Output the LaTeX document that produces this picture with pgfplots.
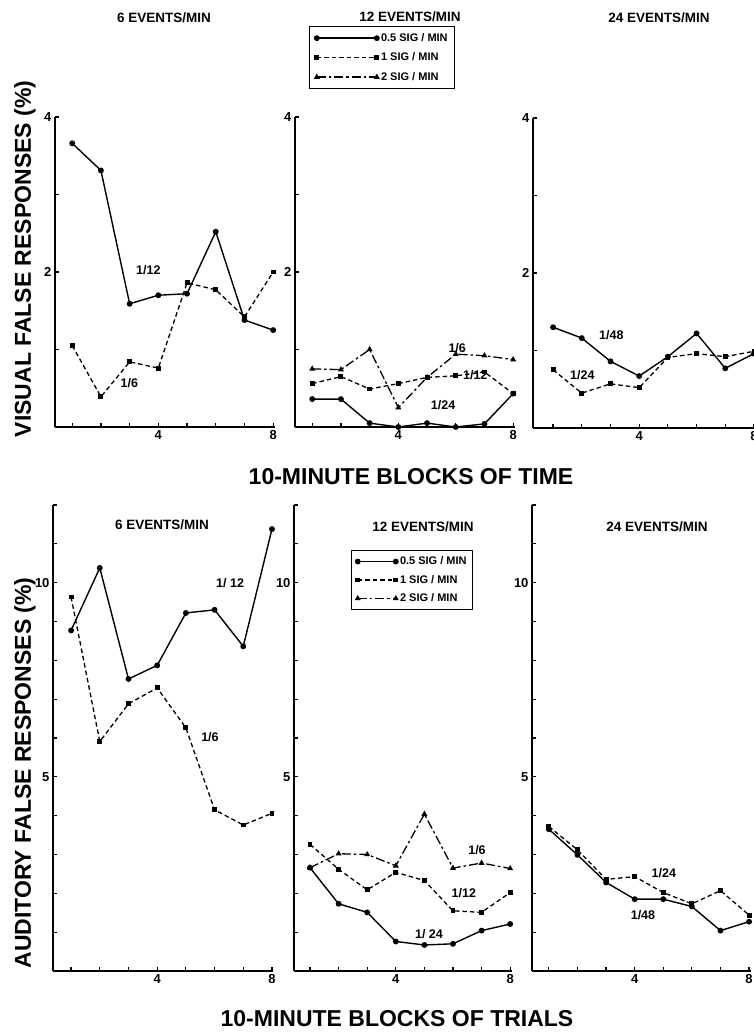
\documentclass[border=0pt]{standalone}
\usepackage{fontspec}
\setmainfont{Liberation Sans}
\usepackage{pgfplots}
\pgfplotsset{compat=1.18}

\tikzset{ann/.style={font=\bfseries\fontsize{12.5}{12.5}\selectfont}}
\pgfplotsset{
 panel/.style={
   scale only axis,
   axis lines*=left,
   axis line style={line width=1.5pt},
   tick align=inside,
   major tick length=3.5pt,
   every tick/.append style={line width=1.2pt, black},
   xtick={1,...,8},
   xticklabels={,,,4,,,,8},
   tick label style={font=\bfseries\fontsize{13}{13}\selectfont},
   xmax=8.05,
   clip=false,
 },
 top/.style={panel, ymin=0, ymax=4, height=310pt, ytick={1,2,3,4}, yticklabels={,2,,4}},
 bot/.style={panel, ymin=0, ymax=12, height=466pt, ytick={1,...,12}, yticklabels={,,,,5,,,,,10,,}},
 s05/.style={black, line width=1.4pt, mark=*, mark size=2.2pt, mark options={solid}},
 s1/.style={black, line width=1.3pt, dash pattern=on 4.5pt off 3pt, mark=square*, mark size=1.8pt, mark options={solid}},
 s2/.style={black, line width=1.3pt, dash pattern=on 9pt off 3pt on 2.5pt off 3pt, mark=triangle*, mark size=2.2pt, mark options={solid}},
}

\begin{document}
\begin{tikzpicture}
\useasboundingbox (0,0) rectangle (753pt,1035pt);

% ---------- TOP ROW: VISUAL ----------
\begin{axis}[top, at={(55pt,608pt)}, anchor=south west, xmin=0.4, width=219.6pt]
\addplot[s05] coordinates {(1,3.66) (2,3.31) (3,1.59) (4,1.70) (5,1.72) (6,2.52) (7,1.38) (8,1.25)};
\addplot[s1] coordinates {(1,1.05) (2,0.39) (3,0.84) (4,0.76) (5,1.86) (6,1.77) (7,1.42) (8,2.0)};
\node[ann] at (axis cs:3.65,2.03) {1/12};
\node[ann] at (axis cs:2.99,0.57) {1/6};
\end{axis}

\begin{axis}[top, at={(295pt,608pt)}, anchor=south west, xmin=0.4, width=219.6pt,
  legend style={at={(0.064,1.294)}, anchor=north west, draw=black, line width=1.2pt,
    font=\bfseries\fontsize{11}{11}\selectfont, row sep=6pt, inner sep=5pt,
    cells={anchor=west}},
  legend image code/.code={\draw[#1] plot coordinates {(0pt,0pt) (60pt,0pt)};}]
\addplot[s05] coordinates {(1,0.36) (2,0.36) (3,0.05) (4,0.0) (5,0.05) (6,0.0) (7,0.04) (8,0.43)};
\addplot[s1] coordinates {(1,0.56) (2,0.65) (3,0.49) (4,0.56) (5,0.64) (6,0.66) (7,0.71) (8,0.43)};
\addplot[s2] coordinates {(1,0.75) (2,0.74) (3,1.0) (4,0.25) (5,0.64) (6,0.94) (7,0.92) (8,0.87)};
\legend{0.5 SIG / MIN, 1 SIG / MIN, 2 SIG / MIN}
\node[ann] at (axis cs:6.05,1.02) {1/6};
\node[ann] at (axis cs:6.68,0.67) {1/12};
\node[ann] at (axis cs:5.56,0.28) {1/24};
\end{axis}

\begin{axis}[top, at={(533pt,607pt)}, anchor=south west, xmin=0.3, width=222.4pt]
\addplot[s05] coordinates {(1,1.30) (2,1.16) (3,0.86) (4,0.67) (5,0.92) (6,1.22) (7,0.77) (8,0.96)};
\addplot[s1] coordinates {(1,0.75) (2,0.45) (3,0.57) (4,0.52) (5,0.91) (6,0.96) (7,0.92) (8,0.99)};
\node[ann] at (axis cs:3.03,1.2) {1/48};
\node[ann] at (axis cs:2.02,0.68) {1/24};
\end{axis}

% ---------- BOTTOM ROW: AUDITORY ----------
\begin{axis}[bot, at={(53pt,64pt)}, anchor=south west, xmin=0.37, width=220.4pt]
\addplot[s05] coordinates {(1,8.77) (2,10.38) (3,7.52) (4,7.87) (5,9.22) (6,9.30) (7,8.36) (8,11.38)};
\addplot[s1] coordinates {(1,9.63) (2,5.91) (3,6.88) (4,7.29) (5,6.26) (6,4.15) (7,3.76) (8,4.06)};
\node[ann] at (axis cs:6.54,10.0) {1/ 12};
\node[ann] at (axis cs:5.84,6.03) {1/6};
\end{axis}

\begin{axis}[bot, at={(294pt,64pt)}, anchor=south west, xmin=0.44, width=217.6pt,
  legend style={at={(0.262,0.903)}, anchor=north west, draw=black, line width=1.2pt,
    font=\bfseries\fontsize{11}{11}\selectfont, row sep=5pt, inner sep=4pt,
    cells={anchor=west}},
  legend image code/.code={\draw[#1] plot coordinates {(0pt,0pt) (38pt,0pt)};}]
\addplot[s05] coordinates {(1,2.66) (2,1.73) (3,1.51) (4,0.76) (5,0.67) (6,0.70) (7,1.04) (8,1.21)};
\addplot[s1] coordinates {(1,3.26) (2,2.62) (3,2.09) (4,2.54) (5,2.33) (6,1.55) (7,1.51) (8,2.02)};
\addplot[s2] coordinates {(1,2.66) (2,3.02) (3,3.00) (4,2.71) (5,4.04) (6,2.65) (7,2.78) (8,2.64)};
\legend{0.5 SIG / MIN, 1 SIG / MIN, 2 SIG / MIN}
\node[ann] at (axis cs:6.84,3.12) {1/6};
\node[ann] at (axis cs:6.38,2.01) {1/12};
\node[ann] at (axis cs:5.16,0.95) {1/ 24};
\end{axis}

\begin{axis}[bot, at={(532pt,64pt)}, anchor=south west, xmin=0.41, width=218.5pt]
\addplot[s05] coordinates {(1,3.65) (2,2.99) (3,2.28) (4,1.85) (5,1.85) (6,1.66) (7,1.04) (8,1.27)};
\addplot[s1] coordinates {(1,3.72) (2,3.12) (3,2.36) (4,2.43) (5,2.02) (6,1.73) (7,2.07) (8,1.44)};
\node[ann] at (axis cs:5.02,2.53) {1/24};
\node[ann] at (axis cs:4.29,1.44) {1/48};
\end{axis}

% ---------- TEXT ----------
\begin{scope}[every node/.style={font=\bfseries\fontsize{13.5}{13.5}\selectfont}]
\node at (164pt,1017pt) {6 EVENTS/MIN};
\node at (410pt,1018pt) {12 EVENTS/MIN};
\node at (659pt,1017pt) {24 EVENTS/MIN};
\node at (162pt,510pt) {6 EVENTS/MIN};
\node at (423pt,508pt) {12 EVENTS/MIN};
\node at (657pt,508pt) {24 EVENTS/MIN};
\end{scope}
\begin{scope}[every node/.style={font=\bfseries\fontsize{23}{23}\selectfont}]
\node[rotate=90] at (25pt,776pt) {VISUAL FALSE RESPONSES (\%)};
\node[rotate=90] at (25pt,262pt) {AUDITORY FALSE RESPONSES (\%)};
\node at (411pt,558pt) {10-MINUTE BLOCKS OF TIME};
\node at (397pt,16pt) {10-MINUTE BLOCKS OF TRIALS};
\end{scope}
\end{tikzpicture}
\end{document}
